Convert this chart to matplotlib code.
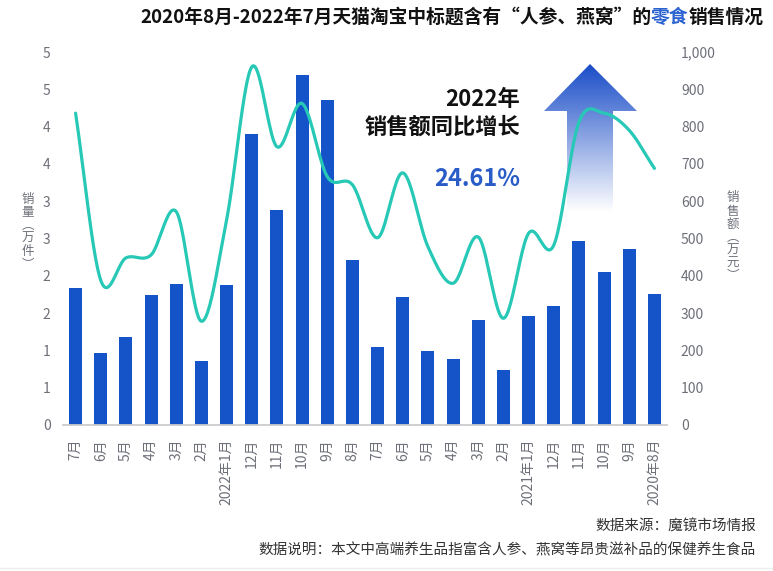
import numpy as np
import matplotlib
matplotlib.use("Agg")
import matplotlib.pyplot as plt
from matplotlib.patches import Polygon

plt.rcParams['font.family'] = ['Noto Sans CJK SC', 'DejaVu Sans']

# 2020年8月 .. 2022年7月 (the reference is drawn mirrored, so the x axis runs right to left)
months = ['2020年8月', '9月', '10月', '11月', '12月',
          '2021年1月', '2月', '3月', '4月', '5月', '6月', '7月', '8月', '9月', '10月', '11月', '12月',
          '2022年1月', '2月', '3月', '4月', '5月', '6月', '7月']
sales = [351, 472, 410, 493, 319, 292, 147, 282, 177, 198, 343, 209,
         442, 871, 938, 576, 780, 375, 172, 378, 349, 236, 193, 367]      # 销售额（万元）
volume = [3.44, 3.95, 4.18, 4.06, 2.41, 2.57, 1.43, 2.52, 1.90, 2.39, 3.38, 2.51,
          3.22, 3.33, 4.31, 3.73, 4.80, 2.75, 1.39, 2.86, 2.28, 2.24, 1.94, 4.18]  # 销量（万件）

sales_ticks = [0, 100, 200, 300, 400, 500, 600, 700, 800, 900, 1000]
sales_tick_labels = ['0', '100', '200', '300', '400', '500', '600', '700', '800', '900', '1,000']
volume_ticks = [0, 0.5, 1, 1.5, 2, 2.5, 3, 3.5, 4, 4.5, 5]
volume_tick_labels = ['0', '1', '1', '2', '2', '3', '3', '4', '4', '5', '5']

title_parts = ['2020年8月-2022年7月天猫淘宝中标题含有“人参、燕窝”的', '零食', '销售情况']
growth = '24.61%'

W, H = 773, 571
BAR = '#1454c8'
LINE = '#27c9b6'
GRAY = '#6e7079'


def smooth(xs, ys, n=24):
    # Catmull-Rom spline through the points
    xs = np.asarray(xs, float)
    ys = np.asarray(ys, float)
    m = np.gradient(ys, xs)
    out_x, out_y = [], []
    for i in range(len(xs) - 1):
        t = np.linspace(0, 1, n, endpoint=False)
        h = xs[i + 1] - xs[i]
        h00 = 2 * t**3 - 3 * t**2 + 1
        h10 = t**3 - 2 * t**2 + t
        h01 = -2 * t**3 + 3 * t**2
        h11 = t**3 - t**2
        out_x.append(xs[i] + t * h)
        out_y.append(h00 * ys[i] + h10 * h * m[i] + h01 * ys[i + 1] + h11 * h * m[i + 1])
    out_x.append([xs[-1]])
    out_y.append([ys[-1]])
    return np.concatenate(out_x), np.concatenate(out_y)


fig = plt.figure(figsize=(W / 100, H / 100), dpi=100)

# overlay for decorations, in pixel coordinates
deco = fig.add_axes([0, 0, 1, 1])
deco.set_xlim(0, W)
deco.set_ylim(H, 0)
deco.axis('off')
deco.set_zorder(0)

ax = fig.add_axes([63 / W, (H - 425) / H, (667 - 63) / W, (425 - 52) / H])
ax2 = ax.twinx()
ax.set_zorder(2)
ax2.set_zorder(3)
ax.patch.set_visible(False)
ax2.patch.set_visible(False)

x = np.arange(len(months))
ax.bar(x, sales, width=0.52, color=BAR, zorder=2)
sx, sy = smooth(x, volume)
ax2.plot(sx, sy, color=LINE, linewidth=2.3, solid_capstyle='round', zorder=3)

ax.set_xlim(len(months) - 0.5, -0.5)
ax.set_ylim(0, 1000)
ax2.set_ylim(0, 5)

ax.set_xticks(x)
ax.set_xticklabels(months, rotation=90, fontsize=10, color=GRAY)
ax.yaxis.tick_right()
ax.set_yticks(sales_ticks)
ax.set_yticklabels(sales_tick_labels, fontsize=10, color=GRAY)
ax2.yaxis.tick_left()
ax2.set_yticks(volume_ticks)
ax2.set_yticklabels(volume_tick_labels, fontsize=10, color=GRAY)
ax.tick_params(axis='both', length=0)
ax.tick_params(axis='y', pad=10)
ax.tick_params(axis='x', pad=10)
ax2.tick_params(axis='y', length=0, pad=9)

for a in (ax, ax2):
    for s in a.spines.values():
        s.set_visible(False)
ax.spines['bottom'].set_visible(True)
ax.spines['bottom'].set_color('#cccccc')
ax.spines['bottom'].set_linewidth(1.3)

# axis names, stacked vertically
deco.text(28, 232, '\n'.join('销量︵万件︶'), ha='center', va='center',
          fontsize=9, color=GRAY, linespacing=1.0)
deco.text(733, 237, '\n'.join('销售额︵万元︶'), ha='center', va='center',
          fontsize=9, color=GRAY, linespacing=1.0)

# gradient arrow
arrow_pts = [(590, 64), (637, 111), (613, 111), (613, 212), (567, 212), (567, 111), (544, 111)]
grad = np.linspace(0, 1, 256)[:, None]
top = np.array([0.10, 0.30, 0.78])
img = top[None, None, :] * (1 - grad[:, :, None]) + np.ones(3)[None, None, :] * grad[:, :, None]
img = np.repeat(img, 2, axis=1)
im = deco.imshow(img, extent=[544, 637, 212, 64], aspect='auto', zorder=1)
clip = Polygon(arrow_pts, closed=True, transform=deco.transData, facecolor='none', edgecolor='none')
deco.add_patch(clip)
im.set_clip_path(clip)

# annotation
deco.text(520, 100, '2022年', ha='right', va='center', fontsize=16, fontweight='bold', color='#111111')
deco.text(520, 127, '销售额同比增长', ha='right', va='center', fontsize=16, fontweight='bold', color='#111111')
deco.text(520, 179, growth, ha='right', va='center', fontsize=17, fontweight='bold',
          style='italic', color='#2a5cc8')

# title with highlighted word
fig.canvas.draw()
renderer = fig.canvas.get_renderer()
tx = 140
for part, col in zip(title_parts, ['#111111', '#2a62d0', '#111111']):
    t = deco.text(tx, 17, part, ha='left', va='center', fontsize=13.5, fontweight='bold', color=col)
    bb = t.get_window_extent(renderer)
    tx += bb.width

# footer
deco.text(756, 527, '数据来源：魔镜市场情报', ha='right', va='center', fontsize=10.5, color='#333333')
deco.text(756, 550, '数据说明：本文中高端养生品指富含人参、燕窝等昂贵滋补品的保健养生食品',
          ha='right', va='center', fontsize=10.5, color='#333333')
deco.plot([0, W], [568, 568], color='#eeeeee', linewidth=1)

fig.savefig('out.png', dpi=100)
